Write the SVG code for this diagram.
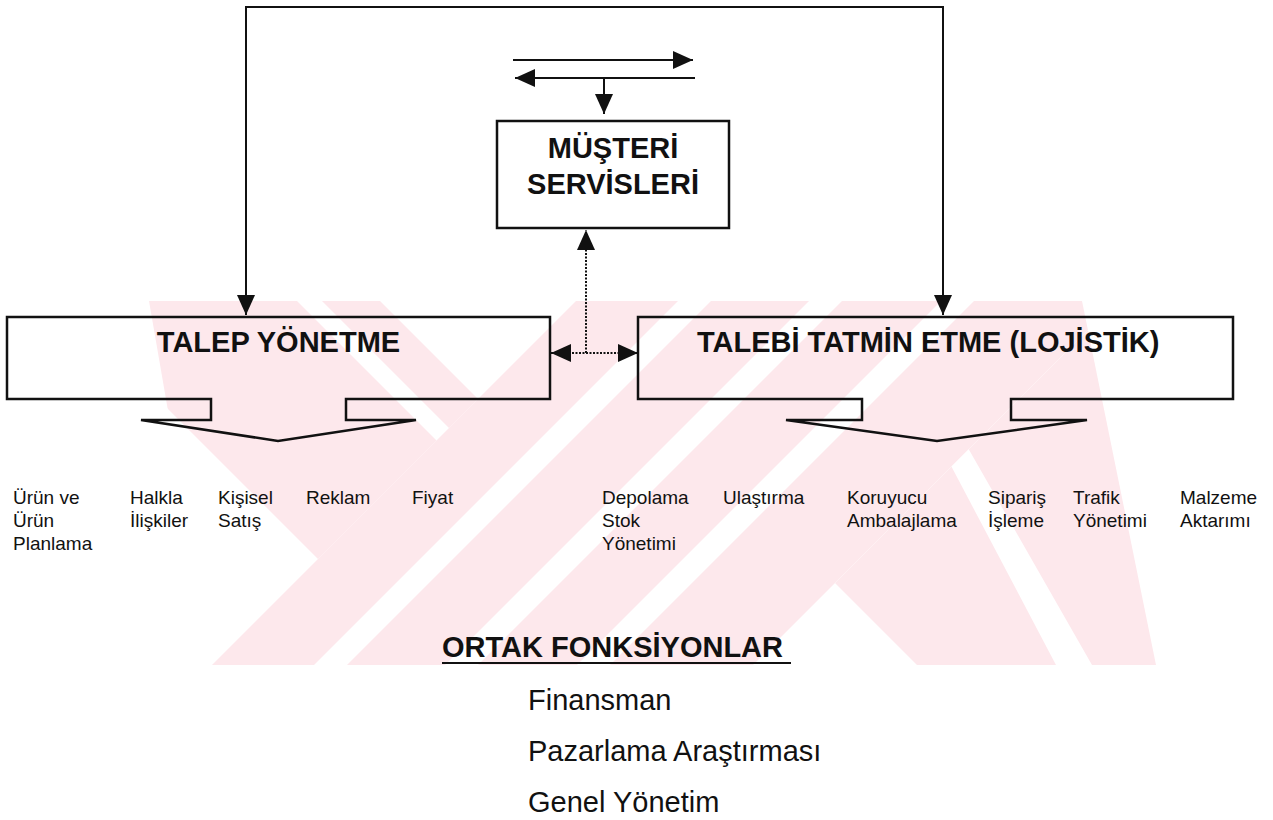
<svg xmlns="http://www.w3.org/2000/svg" width="1273" height="820" viewBox="0 0 1273 820">
<defs>
<style>
text{font-family:"Liberation Sans",Arial,Helvetica,sans-serif;fill:#111}
.big{font-size:29px;font-weight:bold}
.lbl{font-size:19px}
.fn{font-size:29px}
.box{fill:none;stroke:#111;stroke-width:2.5;stroke-linejoin:miter}
.ln{fill:none;stroke:#111;stroke-width:2}
.dot{fill:none;stroke:#111;stroke-width:2;stroke-dasharray:2 1.5}
.wm{fill:#fde8ec}
</style>
<marker id="ah" markerUnits="userSpaceOnUse" viewBox="0 0 20 20" markerWidth="20" markerHeight="20" refX="20" refY="10" orient="auto-start-reverse">
<path d="M0,1 L20,10 L0,19 Z" fill="#111"/>
</marker>
<clipPath id="hull"><polygon points="149,301 1082,301 1156,665 212,665"/></clipPath>
<clipPath id="cl"><polygon points="0,301 576,301 212,665 0,665"/></clipPath>
<clipPath id="cr"><polygon points="753,665 1117,301 1300,301 1300,665"/></clipPath>
</defs>
<rect width="1273" height="820" fill="#fff"/>
<g id="watermark" class="wm" clip-path="url(#hull)">
<g clip-path="url(#cl)">
<polygon points="60,301 297,301 661,665 424,665"/>
<polygon points="322,301 380,301 744,665 686,665"/>
</g>
<polygon points="212,665 314,665 678,301 576,301"/>
<polygon points="347,665 445,665 809,301 711,301"/>
<polygon points="478,665 577,665 941,301 842,301"/>
<polygon points="610,665 753,665 1117,301 974,301"/>
<g clip-path="url(#cr)">
<polygon points="917,665 835,583 1117,301 1300,301 1300,665"/>
<polygon points="938,441 964,441 1092,665 1056,665" fill="#fff"/>
</g>
</g>
<g id="connectors">
<path class="ln" d="M594,7 H246 V315" marker-end="url(#ah)"/>
<path class="ln" d="M594,7 H943 V315" marker-end="url(#ah)"/>
<path class="ln" d="M513,60 H693" marker-end="url(#ah)"/>
<path class="ln" d="M695,78 H515" marker-end="url(#ah)"/>
<path class="ln" d="M604,78 V114" marker-end="url(#ah)"/>
<path class="dot" d="M586,353 V230" marker-end="url(#ah)"/>
<path class="dot" d="M551,353 H638" marker-start="url(#ah)" marker-end="url(#ah)"/>
</g>
<g id="musteri">
<rect class="box" x="497" y="121" width="232" height="107"/>
<text class="big" x="613" y="158" text-anchor="middle">MÜŞTERİ</text>
<text class="big" x="613" y="194" text-anchor="middle">SERVİSLERİ</text>
</g>
<g id="talep">
<path class="box" d="M7,317 H550 V399 H346 V420 H416 L278,441 L141,420 H211 V399 H7 Z"/>
<text class="big" x="278.5" y="352" text-anchor="middle">TALEP YÖNETME</text>
</g>
<g id="lojistik">
<path class="box" d="M638,317 H1233 V399 H1011 V420 H1087 L937,441 L786,420 H862 V399 H638 Z"/>
<text class="big" x="697" y="352">TALEBİ TATMİN ETME (LOJİSTİK)</text>
</g>
<g id="talep-items">
<text class="lbl" x="13" y="504">Ürün ve</text>
<text class="lbl" x="13" y="527">Ürün</text>
<text class="lbl" x="13" y="550">Planlama</text>
<text class="lbl" x="130" y="504">Halkla</text>
<text class="lbl" x="130" y="527">İlişkiler</text>
<text class="lbl" x="218" y="504">Kişisel</text>
<text class="lbl" x="218" y="527">Satış</text>
<text class="lbl" x="306" y="504">Reklam</text>
<text class="lbl" x="412" y="504">Fiyat</text>
</g>
<g id="lojistik-items">
<text class="lbl" x="602" y="504">Depolama</text>
<text class="lbl" x="602" y="527">Stok</text>
<text class="lbl" x="602" y="550">Yönetimi</text>
<text class="lbl" x="723" y="504">Ulaştırma</text>
<text class="lbl" x="847" y="504">Koruyucu</text>
<text class="lbl" x="847" y="527">Ambalajlama</text>
<text class="lbl" x="988" y="504">Sipariş</text>
<text class="lbl" x="988" y="527">İşleme</text>
<text class="lbl" x="1073" y="504">Trafik</text>
<text class="lbl" x="1073" y="527">Yönetimi</text>
<text class="lbl" x="1180" y="504">Malzeme</text>
<text class="lbl" x="1180" y="527">Aktarımı</text>
</g>
<g id="ortak">
<text class="big" x="442" y="657">ORTAK FONKSİYONLAR</text>
<line class="ln" x1="442" y1="663" x2="791" y2="663"/>
<text class="fn" x="528" y="710">Finansman</text>
<text class="fn" x="528" y="761">Pazarlama Araştırması</text>
<text class="fn" x="528" y="812">Genel Yönetim</text>
</g>
</svg>
